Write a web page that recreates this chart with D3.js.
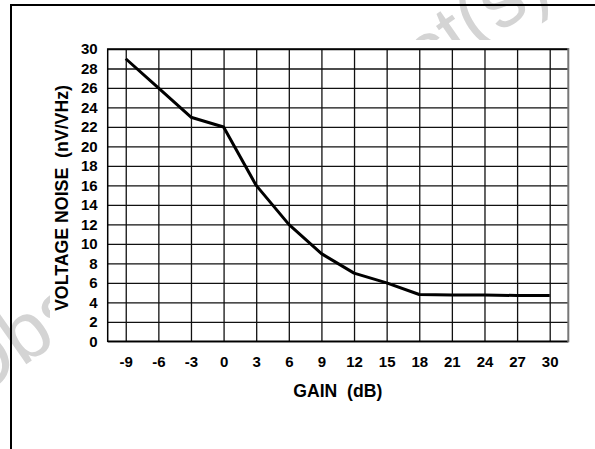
<!DOCTYPE html>
<html>
<head>
<meta charset="utf-8">
<script src="https://cdn.jsdelivr.net/npm/d3@7"></script>
<style>
  body { margin: 0; background: #fff; }
  svg text { font-family: "Liberation Sans", Arial, sans-serif; }
  .grid line { stroke: #111; stroke-width: 1.3; }
  .grid path { display: none; }
  .ticks path, .ticks line { display: none; }
  .ticks text { font-size: 15px; font-weight: bold; fill: #000; }
  .title { white-space: pre; }
</style>
</head>
<body>
<div id="chart"></div>
<script>
// gain (dB) on the x axis, voltage noise (nV/VHz) on the y axis
var gain = [-9, -6, -3, 0, 3, 6, 9, 12, 15, 18, 21, 24, 27, 30]
var noise = [29, 26, 23, 22, 16, 12, 9, 7, 6, 4.8, 4.75, 4.75, 4.7, 4.7]
var xTicks = [-9, -6, -3, 0, 3, 6, 9, 12, 15, 18, 21, 24, 27, 30]
var yTicks = [0, 2, 4, 6, 8, 10, 12, 14, 16, 18, 20, 22, 24, 26, 28, 30]
var xTitle = "GAIN  (dB)"
var yTitle = "VOLTAGE NOISE  (nV/VHz)"
var watermark = "Obsolete Product(s)"

var width = 595,
    height = 449
var plot = { left: 107.7, right: 568.3, top: 49, bottom: 341.3 }

var svg = d3.select("#chart").append("svg")
  .attr("width", width)
  .attr("height", height)

// faint watermark, mostly hidden behind the white chart area
svg.append("text")
  .attr("transform", "translate(-29,403) rotate(-35)")
  .attr("font-size", 80)
  .attr("fill", "#d4d4d4")
  .text(watermark)
svg.append("rect")
  .attr("x", 50)
  .attr("y", 40)
  .attr("width", width - 50)
  .attr("height", height - 40)
  .attr("fill", "#fff")

// frame lines (top and left)
svg.append("line")
  .attr("x1", 10).attr("y1", 5).attr("x2", width).attr("y2", 5)
  .attr("stroke", "#000").attr("stroke-width", 2)
svg.append("line")
  .attr("x1", 11).attr("y1", 4).attr("x2", 11).attr("y2", height)
  .attr("stroke", "#000").attr("stroke-width", 2)

var x = d3.scaleLinear().domain([-10.66, 31.71]).range([plot.left, plot.right])
var y = d3.scaleLinear().domain([0, 30]).range([plot.bottom, plot.top])

// grid
svg.append("g")
  .attr("class", "grid")
  .attr("transform", "translate(0," + plot.bottom + ")")
  .call(d3.axisBottom(x).tickValues(xTicks).tickSize(-(plot.bottom - plot.top)).tickFormat(""))
svg.append("g")
  .attr("class", "grid")
  .attr("transform", "translate(" + plot.left + ",0)")
  .call(d3.axisLeft(y).tickValues(yTicks).tickSize(-(plot.right - plot.left)).tickFormat(""))

// plot border
svg.append("path")
  .attr("d", "M" + plot.right + "," + plot.top + "H" + plot.left + "V" + plot.bottom + "H" + plot.right)
  .attr("fill", "none").attr("stroke", "#000").attr("stroke-width", 1.5)
svg.append("line")
  .attr("x1", plot.right).attr("y1", plot.top - 1).attr("x2", plot.right).attr("y2", plot.bottom + 1)
  .attr("stroke", "#777").attr("stroke-width", 2)

// tick labels (plain hyphen for negatives, as in the reference)
svg.append("g")
  .attr("class", "ticks")
  .attr("transform", "translate(0," + plot.bottom + ")")
  .call(d3.axisBottom(x).tickValues(xTicks).tickSize(0).tickPadding(15)
    .tickFormat(function (d) { return String(d) }))
svg.append("g")
  .attr("class", "ticks")
  .attr("transform", "translate(" + plot.left + ",0)")
  .call(d3.axisLeft(y).tickValues(yTicks).tickSize(0).tickPadding(10)
    .tickFormat(function (d) { return String(d) }))

// axis titles
svg.append("text")
  .attr("class", "title")
  .attr("xml:space", "preserve")
  .attr("x", 337.8)
  .attr("y", 397)
  .attr("text-anchor", "middle")
  .attr("font-size", 17.5)
  .attr("font-weight", "bold")
  .attr("textLength", 89)
  .attr("lengthAdjust", "spacingAndGlyphs")
  .text(xTitle)
svg.append("text")
  .attr("class", "title")
  .attr("xml:space", "preserve")
  .attr("transform", "translate(68.3,198) rotate(-90)")
  .attr("text-anchor", "middle")
  .attr("font-size", 17.5)
  .attr("font-weight", "bold")
  .attr("textLength", 226)
  .attr("lengthAdjust", "spacingAndGlyphs")
  .text(yTitle)

// noise curve
var line = d3.line()
  .x(function (d, i) { return x(gain[i]) })
  .y(function (d) { return y(d) })
svg.append("path")
  .datum(noise)
  .attr("d", line)
  .attr("fill", "none")
  .attr("stroke", "#000")
  .attr("stroke-width", 3)
  .attr("stroke-linejoin", "round")
</script>
</body>
</html>
